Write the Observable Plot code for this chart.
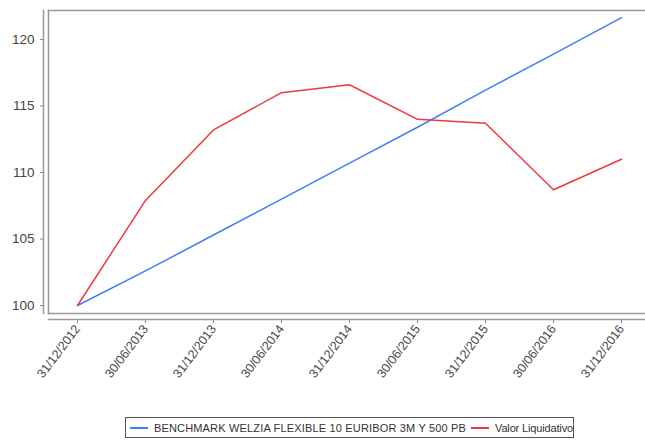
<!DOCTYPE html>
<html>
<head>
<meta charset="utf-8">
<script src="https://cdn.jsdelivr.net/npm/d3@7"></script>
<script src="https://cdn.jsdelivr.net/npm/@observablehq/plot@0.6"></script>
<style>
  html, body { margin: 0; padding: 0; background: #fff; }
  body { width: 645px; height: 446px; overflow: hidden; font-family: "Liberation Sans", Arial, sans-serif; }
  #legend {
    position: absolute; left: 125px; top: 417px; width: 449px; height: 21px;
    border: 1px solid #555; box-sizing: border-box;
    display: flex; align-items: center; font-size: 11px; color: #333; white-space: nowrap;
  }
  #legend .sw { display: inline-block; width: 21px; height: 2px; margin: 0 6px 0 4px; }
</style>
</head>
<body>
<div id="chart"></div>
<div id="legend"></div>
<script>
const dates = ["31/12/2012","30/06/2013","31/12/2013","30/06/2014","31/12/2014","30/06/2015","31/12/2015","30/06/2016","31/12/2016"];
const benchmark = [100, 102.6, 105.3, 108.0, 110.7, 113.4, 116.2, 118.9, 121.65];
const valor = [100, 107.9, 113.2, 116.0, 116.6, 114.0, 113.7, 108.7, 111.0];
const seriesNames = ["BENCHMARK WELZIA FLEXIBLE 10 EURIBOR 3M Y 500 PB", "Valor Liquidativo"];
const colors = ["#3f7ef6", "#ec3a3e"];
const yTicks = [100, 105, 110, 115, 120];

const rows = [];
dates.forEach((d, i) => {
  rows.push({date: d, value: benchmark[i], series: seriesNames[0]});
  rows.push({date: d, value: valor[i], series: seriesNames[1]});
});

const plot = Plot.plot({
  width: 645,
  height: 410,
  marginLeft: 48,
  marginRight: 0,
  marginTop: 10,
  marginBottom: 97,
  style: {fontFamily: "'Liberation Sans', Arial, sans-serif", fontSize: "12px", color: "#444", background: "#fff"},
  x: {type: "point", domain: dates, padding: 0, insetLeft: 28, insetRight: 23, label: null},
  y: {domain: [99.4, 122.18], label: null},
  color: {domain: seriesNames, range: colors},
  marks: [
    Plot.frame({anchor: "top", stroke: "#999", strokeWidth: 1.5}),
    Plot.frame({anchor: "left", stroke: "#999", strokeWidth: 1.5}),
    Plot.frame({anchor: "bottom", stroke: "#999", strokeWidth: 1.5}),
    Plot.frame({anchor: "left", dx: -5, stroke: "#999", strokeWidth: 1.5}),
    Plot.frame({anchor: "bottom", dy: 6, stroke: "#999", strokeWidth: 1.5}),
    Plot.axisY({ticks: yTicks, tickSize: 3, dx: -5, tickPadding: 6, fontSize: 13.5, fill: "#444", stroke: "#888", label: null}),
    Plot.axisX({tickSize: 4, dy: 6, tickRotate: -53, tickPadding: 3, fontSize: 12.5, fill: "#444", stroke: "#888", label: null}),
    Plot.line(rows, {x: "date", y: "value", z: "series", stroke: "series", strokeWidth: 1.5})
  ]
});
document.getElementById("chart").appendChild(plot);

const lg = document.getElementById("legend");
const spacing = ["0.17px", "-0.15px"];
seriesNames.forEach((n, i) => {
  const sw = document.createElement("span");
  sw.className = "sw";
  sw.style.background = colors[i];
  if (i > 0) sw.style.marginLeft = "5px";
  lg.appendChild(sw);
  const t = document.createElement("span");
  t.textContent = n;
  t.style.letterSpacing = spacing[i];
  lg.appendChild(t);
});
</script>
</body>
</html>
